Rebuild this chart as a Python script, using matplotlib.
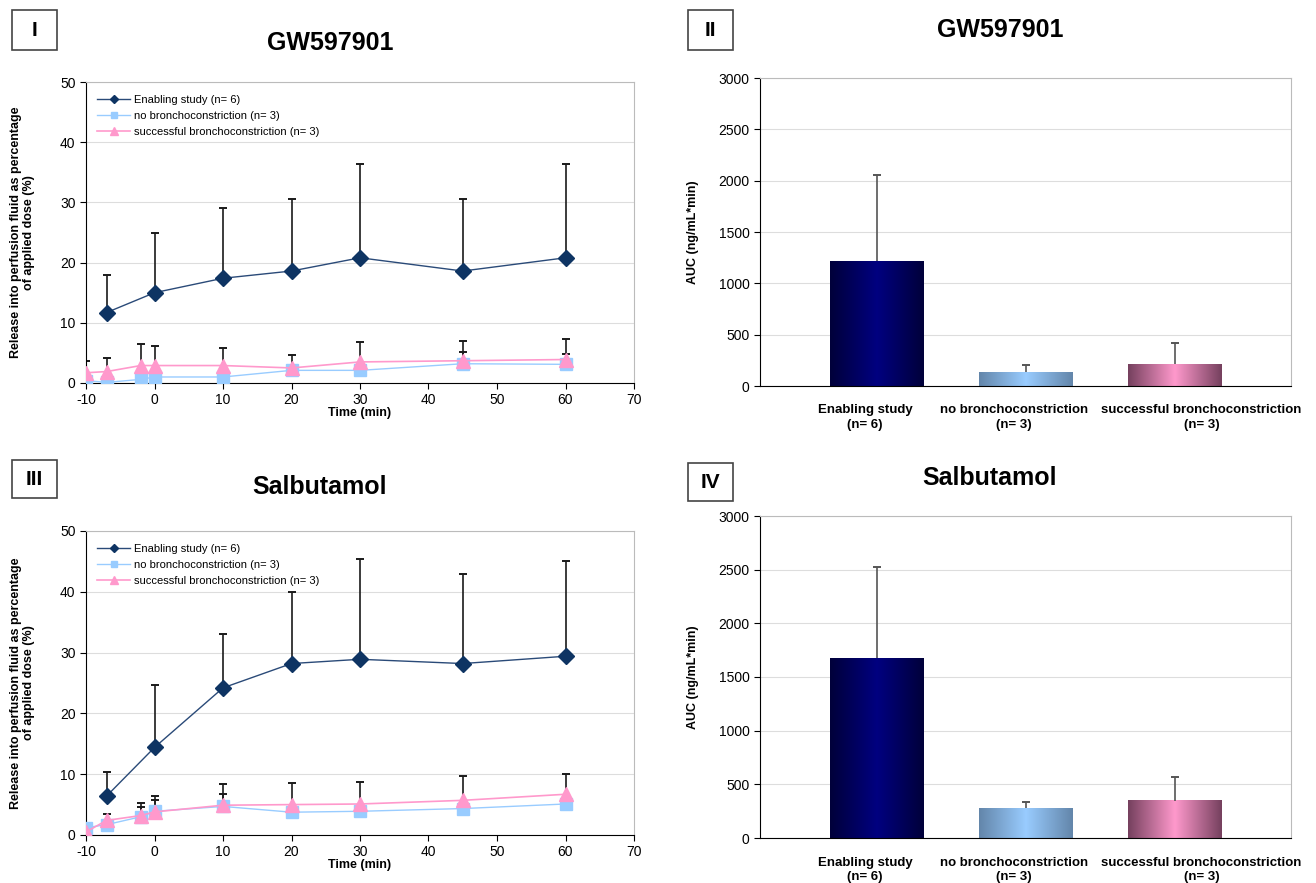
import numpy as np
import matplotlib
matplotlib.use("Agg")
import matplotlib.pyplot as plt
from matplotlib.colors import LinearSegmentedColormap
from matplotlib.patches import Rectangle
from matplotlib.transforms import blended_transform_factory

plt.rcParams['font.family'] = ['Liberation Sans', 'DejaVu Sans']
plt.rcParams['axes.unicode_minus'] = False

# ---------------- data ----------------
time_enabling = [-7, 0, 10, 20, 30, 45, 60]
time_groups = [-10, -7, -2, 0, 10, 20, 30, 45, 60]

gw_enabling = [11.7, 15.0, 17.4, 18.6, 20.8, 18.6, 20.8]
gw_enabling_sd = [6.2, 10.0, 11.6, 12.0, 15.5, 12.0, 15.5]
gw_nobc = [0.4, 0.1, 0.6, 1.0, 1.0, 2.1, 2.1, 3.2, 3.1]
gw_nobc_sd = [0.3, 0.3, 0.5, 0.6, 0.6, 0.8, 0.9, 1.9, 1.7]
gw_succ = [1.7, 1.9, 2.9, 2.9, 2.9, 2.5, 3.5, 3.7, 3.9]
gw_succ_sd = [1.9, 2.2, 3.6, 3.2, 2.9, 2.1, 3.3, 3.2, 3.4]

sal_enabling = [6.4, 14.4, 24.2, 28.2, 28.9, 28.2, 29.4]
sal_enabling_sd = [4.0, 10.3, 8.9, 11.8, 16.5, 14.8, 15.7]
sal_nobc = [1.2, 1.7, 3.0, 3.9, 4.7, 3.75, 3.9, 4.35, 5.1]
sal_nobc_sd = [0.3, 0.4, 1.6, 1.8, 2.1, 0.5, 0.6, 0.7, 0.8]
sal_succ = [0.5, 2.4, 3.2, 3.8, 4.9, 5.0, 5.1, 5.7, 6.7]
sal_succ_sd = [0.3, 1.1, 2.1, 2.6, 3.5, 3.5, 3.6, 4.0, 3.3]

bar_labels = ["Enabling study\n(n= 6)", "no bronchoconstriction\n(n= 3)",
              "successful bronchoconstriction\n(n= 3)"]
gw_auc = [1213, 133, 214]
gw_auc_sd = [843, 74, 207]
sal_auc = [1674, 279, 347]
sal_auc_sd = [852, 52, 217]

series_names = ["Enabling study (n= 6)", "no bronchoconstriction (n= 3)",
                "successful bronchoconstriction (n= 3)"]

# ---------------- figure ----------------
W, H = 1316, 883
fig = plt.figure(figsize=(W / 100, H / 100), dpi=100)


def ax_at(l, t, r, b):
    return fig.add_axes([l / W, 1 - b / H, (r - l) / W, (b - t) / H])


navy = '#0E3463'
navy_line = '#2A4A78'
blue = '#99CCFF'
pink = '#FF99CC'
err_col = '#1A1A1A'


def style_axes(ax):
    ax.spines['top'].set_color('#BBBBBB')
    ax.spines['right'].set_color('#BBBBBB')
    ax.spines['left'].set_color('black')
    ax.spines['bottom'].set_color('black')
    ax.grid(axis='y', color='#DDDDDD', linewidth=0.8)
    ax.set_axisbelow(True)
    ax.tick_params(labelsize=10, length=4, width=0.8, direction='out')


def upper_err(ax, x, y, sd, color, z):
    x = np.asarray(x, float)
    y = np.asarray(y, float)
    top = y + np.asarray(sd, float)
    ax.vlines(x, y, top, colors=color, linewidth=1.2, zorder=z)
    ax.plot(x, top, ls='none', marker='_', ms=6, mew=1.4, color=color, zorder=z)


def line_panel(ax, en, en_sd, nb, nb_sd, sc, sc_sd):
    upper_err(ax, time_enabling, en, en_sd, err_col, 2.5)
    upper_err(ax, time_groups, nb, nb_sd, err_col, 2.5)
    upper_err(ax, time_groups, sc, sc_sd, err_col, 2.5)
    ax.plot(time_enabling, en, color=navy_line, lw=1.0, marker='D', ms=8,
            mfc=navy, mec=navy, zorder=3, label=series_names[0])
    ax.plot(time_groups, nb, color=blue, lw=1.0, marker='s', ms=9,
            mfc=blue, mec=blue, zorder=4, label=series_names[1])
    ax.plot(time_groups, sc, color=pink, lw=1.2, marker='^', ms=10,
            mfc=pink, mec=pink, zorder=5, label=series_names[2])
    ax.set_xlim(-10, 70)
    ax.set_ylim(0, 50)
    ax.set_xticks(np.arange(-10, 71, 10))
    ax.set_yticks(np.arange(0, 51, 10))
    style_axes(ax)
    ax.set_xlabel("Time (min)", fontsize=9, fontweight='bold', labelpad=0)
    ax.set_ylabel("Release into perfusion fluid as percentage\nof applied dose (%)",
                  fontsize=9, fontweight='bold', labelpad=18, linespacing=1.1)
    ax.legend(loc='upper left', frameon=False, fontsize=8, markerscale=0.55,
              handlelength=3, handletextpad=0.3, labelspacing=0.55,
              bbox_to_anchor=(0.0, 0.995), borderaxespad=0.6)


bar_cmaps = [
    LinearSegmentedColormap.from_list('c1', ['#00003A', '#000080', '#00003A']),
    LinearSegmentedColormap.from_list('c2', ['#6386AA', '#99CCFF', '#6386AA']),
    LinearSegmentedColormap.from_list('c3', ['#75405E', '#FF99CC', '#75405E']),
]
label_shift = [-0.08, -0.08, 0.18]


def bar_panel(ax, vals, sds):
    xs = np.arange(len(vals))
    width = 0.63
    bars = ax.bar(xs, vals, width=width, color='none', zorder=2)
    grad = np.linspace(0, 1, 256).reshape(1, -1)
    for i, b in enumerate(bars):
        x0 = b.get_x()
        ax.imshow(grad, cmap=bar_cmaps[i], aspect='auto', zorder=2,
                  extent=[x0, x0 + width, 0, b.get_height()])
    upper_err(ax, xs, vals, sds, '#555555', 3)
    ax.set_xlim(-0.785, 2.78)
    ax.set_ylim(0, 3000)
    ax.set_yticks(np.arange(0, 3001, 500))
    ax.set_xticks(xs)
    ax.set_xticklabels([])
    style_axes(ax)
    ax.tick_params(axis='x', length=0)
    trans = blended_transform_factory(ax.transData, ax.transAxes)
    for i, lab in enumerate(bar_labels):
        ax.text(xs[i] + label_shift[i], -0.058, lab, transform=trans, ha='center', va='top',
                fontsize=9.5, fontweight='bold', linespacing=1.3)
    ax.set_ylabel("AUC (ng/mL*min)", fontsize=9, fontweight='bold', labelpad=14)


ax1 = ax_at(86, 82, 634, 383)
line_panel(ax1, gw_enabling, gw_enabling_sd, gw_nobc, gw_nobc_sd, gw_succ, gw_succ_sd)
ax3 = ax_at(86, 531, 634, 835)
line_panel(ax3, sal_enabling, sal_enabling_sd, sal_nobc, sal_nobc_sd, sal_succ, sal_succ_sd)
ax2 = ax_at(760, 78, 1291, 386)
bar_panel(ax2, gw_auc, gw_auc_sd)
ax4 = ax_at(760, 516, 1291, 838)
bar_panel(ax4, sal_auc, sal_auc_sd)

# titles
for x, y, s in [(330, 43, "GW597901"), (1000, 30, "GW597901"),
                (320, 487, "Salbutamol"), (990, 478, "Salbutamol")]:
    fig.text(x / W, 1 - y / H, s, fontsize=18, fontweight='bold', ha='center', va='center')

# roman numeral boxes
for l, t, r, b, s in [(12, 10, 57, 50, "I"), (688, 10, 733, 50, "II"),
                      (12, 460, 57, 498, "III"), (688, 463, 733, 501, "IV")]:
    fig.patches.append(Rectangle((l / W, 1 - b / H), (r - l) / W, (b - t) / H,
                                 transform=fig.transFigure, fill=False,
                                 edgecolor='#444444', linewidth=1.2))
    fig.text((l + r) / 2 / W, 1 - (t + b) / 2 / H, s, fontsize=15, fontweight='bold',
             ha='center', va='center')

fig.savefig("out.png", dpi=100, facecolor='white')
